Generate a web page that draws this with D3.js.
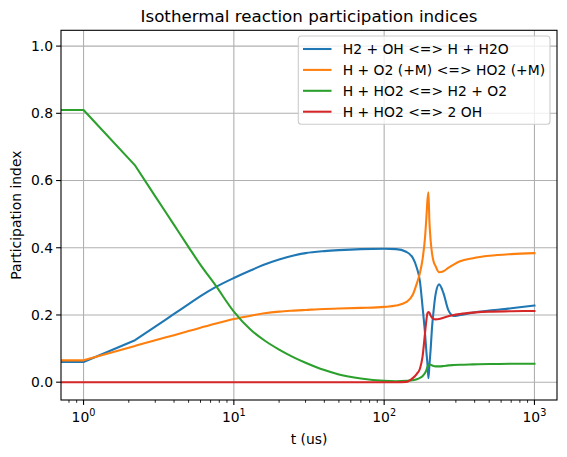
<!DOCTYPE html>
<html>
<head>
<meta charset="utf-8">
<script src="https://cdn.jsdelivr.net/npm/d3@7"></script>
<style>
  body { margin: 0; background: #fff; }
  svg { font-family: "DejaVu Sans", sans-serif; }
</style>
</head>
<body>
<svg id="chart" width="567" height="457"></svg>
<script>
"use strict";
(function () {

    // time points (us); the first one stands for t = 0, which sits left of the log axis
    const times = [0.5, 1, 2.2, 3, 4, 5, 6, 7.5, 10, 13, 16, 20, 25, 30, 40, 50, 70, 100, 120, 140,
        155, 165, 173, 180, 187, 191, 194, 197, 200, 204, 208, 213, 220, 232, 248, 267, 290, 320,
        390, 500, 700, 1000];

    const h2Oh = [0.06, 0.06, 0.125, 0.165, 0.203, 0.232, 0.256, 0.282, 0.31, 0.333, 0.35, 0.365,
        0.377, 0.384, 0.39, 0.393, 0.396, 0.397, 0.396, 0.388,
        0.37, 0.34, 0.3, 0.225, 0.146, 0.09, 0.056, 0.012, 0.05, 0.1, 0.16, 0.21, 0.262, 0.291,
        0.265, 0.215, 0.197, 0.2, 0.207, 0.213, 0.22, 0.228];

    const hO2M = [0.065, 0.065, 0.108, 0.125, 0.14, 0.152, 0.162, 0.174, 0.188, 0.198, 0.205, 0.21,
        0.213, 0.215, 0.218, 0.219, 0.221, 0.224, 0.228, 0.238,
        0.26, 0.294, 0.325, 0.365, 0.43, 0.49, 0.54, 0.565, 0.48, 0.42, 0.385, 0.36, 0.345, 0.327,
        0.33, 0.34, 0.35, 0.36, 0.369, 0.376, 0.381, 0.384];

    const hHo2H2 = [0.81, 0.81, 0.645, 0.553, 0.468, 0.402, 0.349, 0.29, 0.21, 0.155, 0.124, 0.097,
        0.074, 0.058, 0.036, 0.023, 0.011, 0.004, 0.003, 0.004,
        0.006, 0.009, 0.013, 0.018, 0.027, 0.036, 0.045, 0.05, 0.052, 0.052, 0.05, 0.048, 0.047, 0.047,
        0.048, 0.05, 0.051, 0.052, 0.053, 0.054, 0.055, 0.055];

    const hHo2Oh = [0, 0, 0, 0, 0, 0, 0, 0, 0, 0, 0, 0,
        0, 0, 0, 0, 0, 0, 0, 0.001,
        0.012, 0.025, 0.04, 0.075, 0.146, 0.185, 0.205, 0.209, 0.207, 0.198, 0.192, 0.188, 0.187, 0.188,
        0.192, 0.196, 0.2, 0.203, 0.207, 0.21, 0.211, 0.212];

    const seriesNames = ["H2 + OH <=> H + H2O", "H + O2 (+M) <=> HO2 (+M)",
        "H + HO2 <=> H2 + O2", "H + HO2 <=> 2 OH"];
    const seriesValues = [h2Oh, hO2M, hHo2H2, hHo2Oh];
    const colors = ["#1f77b4", "#ff7f0e", "#2ca02c", "#d62728"];

    const yTicks = [0, 0.2, 0.4, 0.6, 0.8, 1.0];
    const xMajor = [1, 10, 100, 1000];

    const LEFT = 61, RIGHT = 557, TOP = 30.3, BOTTOM = 400;
    const FONT = 13.9;
    const LW = 2.08;

    const svg = d3.select("#chart");

    const x = d3.scaleLog()
        .domain([Math.pow(10, -0.15), Math.pow(10, 3.15)])
        .range([LEFT, RIGHT]);

    const y = d3.scaleLinear()
        .domain([-0.053, 1.047])
        .range([BOTTOM, TOP]);

    svg.append("defs").append("clipPath").attr("id", "plotClip")
        .append("rect")
        .attr("x", LEFT).attr("y", TOP)
        .attr("width", RIGHT - LEFT).attr("height", BOTTOM - TOP);

    // grid
    const grid = svg.append("g");
    grid.selectAll(".gx").data(xMajor).enter().append("line")
        .attr("x1", d => x(d)).attr("x2", d => x(d))
        .attr("y1", TOP).attr("y2", BOTTOM)
        .attr("stroke", "#b0b0b0").attr("stroke-width", 1.1);
    grid.selectAll(".gy").data(yTicks).enter().append("line")
        .attr("x1", LEFT).attr("x2", RIGHT)
        .attr("y1", d => y(d)).attr("y2", d => y(d))
        .attr("stroke", "#b0b0b0").attr("stroke-width", 1.1);

    // lines: the solver's first steps are straight segments, the rest is drawn smooth
    const straight = d3.line()
        .x(d => x(d[0]))
        .y(d => y(d[1]));
    const smooth = d3.line()
        .x(d => x(d[0]))
        .y(d => y(d[1]))
        .curve(d3.curveMonotoneX);

    function seriesPath(values) {
        const pts = values.map((v, i) => [times[i], v]);
        return straight(pts.slice(0, 3)) + smooth(pts.slice(2)).replace(/^M/, "L");
    }

    svg.append("g").attr("clip-path", "url(#plotClip)")
        .selectAll("path")
        .data(seriesValues)
        .enter()
        .append("path")
        .attr("d", d => seriesPath(d))
        .attr("fill", "none")
        .attr("stroke", (d, i) => colors[i])
        .attr("stroke-width", LW)
        .attr("stroke-linejoin", "round")
        .attr("stroke-linecap", "square");

    // frame
    svg.append("rect")
        .attr("x", LEFT).attr("y", TOP)
        .attr("width", RIGHT - LEFT).attr("height", BOTTOM - TOP)
        .attr("fill", "none").attr("stroke", "black").attr("stroke-width", 1.1);

    // y axis
    const yAxis = svg.append("g");
    yAxis.selectAll("line").data(yTicks).enter().append("line")
        .attr("x1", LEFT - 4.9).attr("x2", LEFT)
        .attr("y1", d => y(d)).attr("y2", d => y(d))
        .attr("stroke", "black").attr("stroke-width", 1.1);
    yAxis.selectAll("text").data(yTicks).enter().append("text")
        .attr("x", LEFT - 8)
        .attr("y", d => y(d))
        .attr("dy", "0.35em")
        .attr("text-anchor", "end")
        .attr("font-size", FONT)
        .text(d => d3.format(".1f")(d));

    // x axis
    const minor = x.ticks().filter(d => xMajor.indexOf(d) < 0 && d >= x.domain()[0] && d <= x.domain()[1]);
    const xAxis = svg.append("g");
    xAxis.selectAll(".minor").data(minor).enter().append("line")
        .attr("x1", d => x(d)).attr("x2", d => x(d))
        .attr("y1", BOTTOM).attr("y2", BOTTOM + 2.8)
        .attr("stroke", "black").attr("stroke-width", 0.85);
    xAxis.selectAll(".major").data(xMajor).enter().append("line")
        .attr("x1", d => x(d)).attr("x2", d => x(d))
        .attr("y1", BOTTOM).attr("y2", BOTTOM + 4.9)
        .attr("stroke", "black").attr("stroke-width", 1.1);
    const xl = xAxis.selectAll("text").data(xMajor).enter().append("text")
        .attr("x", d => x(d))
        .attr("y", BOTTOM + 22)
        .attr("text-anchor", "middle")
        .attr("font-size", FONT);
    xl.append("tspan").text("10");
    xl.append("tspan")
        .attr("dy", -6)
        .attr("font-size", FONT * 0.7)
        .text(d => Math.round(Math.log10(d)));

    // labels
    svg.append("text")
        .attr("x", (LEFT + RIGHT) / 2).attr("y", TOP - 8)
        .attr("text-anchor", "middle")
        .attr("font-size", 16.7)
        .text("Isothermal reaction participation indices");

    svg.append("text")
        .attr("x", (LEFT + RIGHT) / 2).attr("y", 444)
        .attr("text-anchor", "middle")
        .attr("font-size", FONT)
        .text("t (us)");

    svg.append("text")
        .attr("transform", `translate(21,${(TOP + BOTTOM) / 2}) rotate(-90)`)
        .attr("text-anchor", "middle")
        .attr("font-size", FONT)
        .text("Participation index");

    // legend
    const legend = svg.append("g");
    legend.append("rect")
        .attr("x", 298.3).attr("y", 36)
        .attr("width", 251.7).attr("height", 88.3)
        .attr("rx", 3)
        .attr("fill", "white").attr("fill-opacity", 0.8)
        .attr("stroke", "#cccccc").attr("stroke-width", 1.1);
    const rows = legend.selectAll(".row").data(seriesNames).enter().append("g")
        .attr("transform", (d, i) => `translate(0,${49 + i * 20.9})`);
    rows.append("line")
        .attr("x1", 303).attr("x2", 331.5)
        .attr("stroke", (d, i) => colors[i])
        .attr("stroke-width", LW);
    rows.append("text")
        .attr("x", 342.7)
        .attr("dy", "0.35em")
        .attr("font-size", FONT)
        .text(d => d);
})();
</script>
</body>
</html>
